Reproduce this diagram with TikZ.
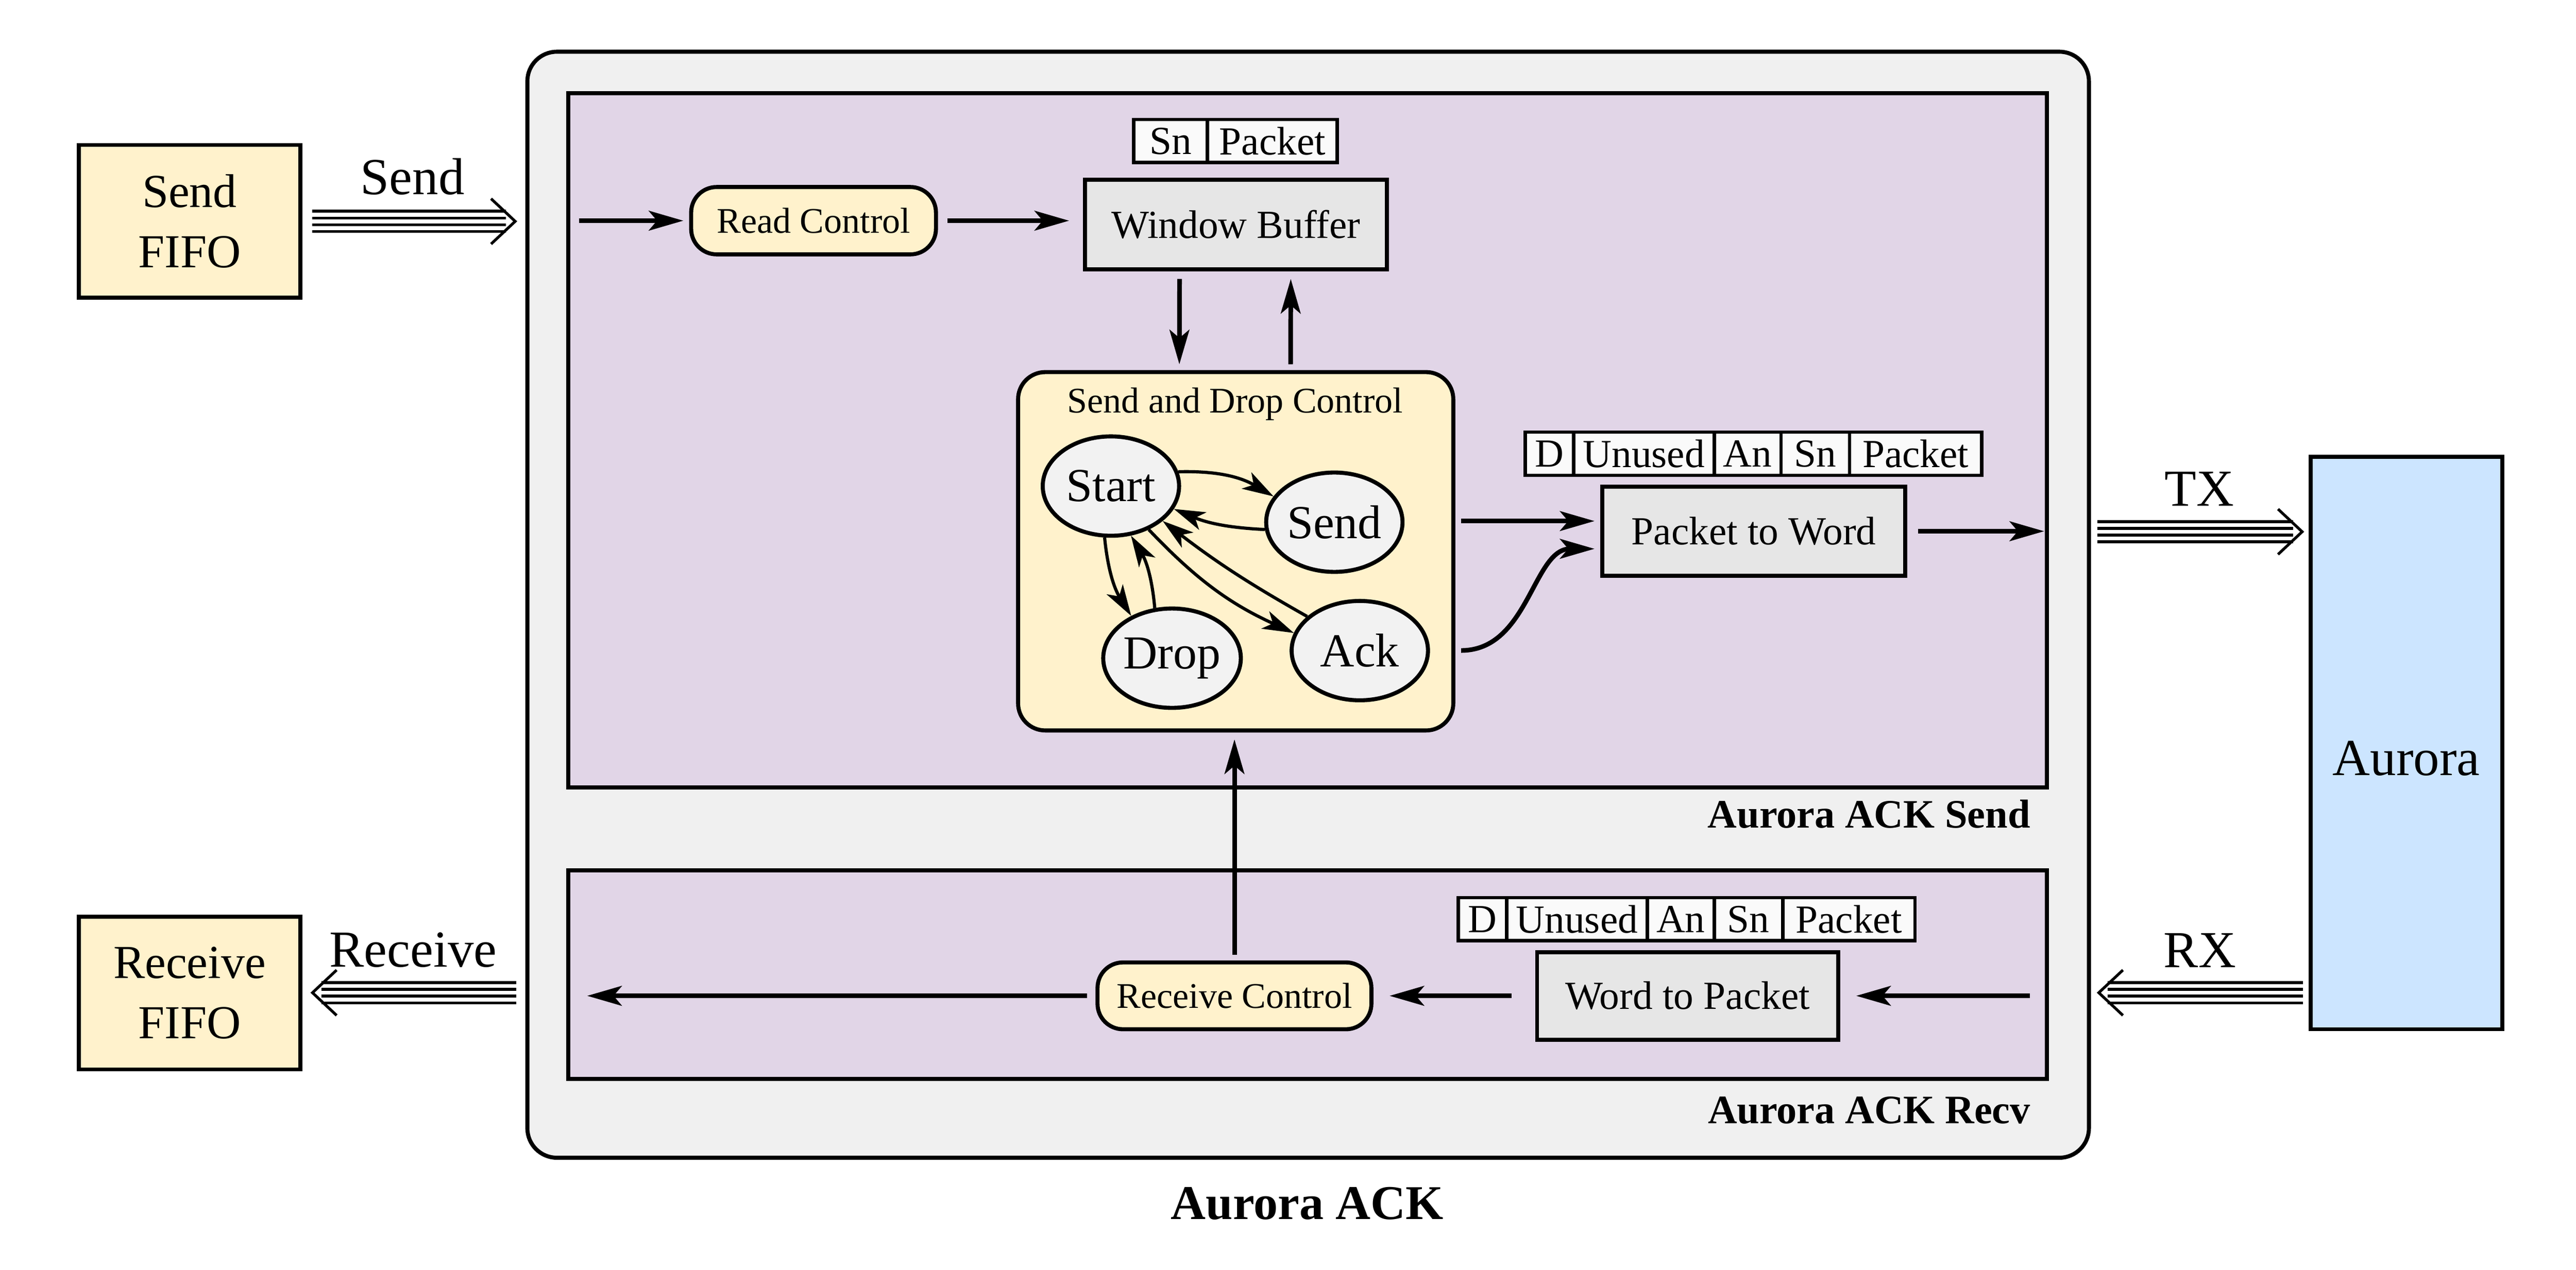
\documentclass[tikz,border=0pt]{standalone}
\usepackage{fontspec}
\setmainfont{Liberation Serif}
\usetikzlibrary{arrows.meta,shapes.geometric}

\definecolor{ackgray}{HTML}{F0F0F0}
\definecolor{panelpurple}{HTML}{E1D5E7}
\definecolor{ctlyellow}{HTML}{FFF2CC}
\definecolor{blockgray}{HTML}{E6E6E6}
\definecolor{stategray}{HTML}{F2F2F2}
\definecolor{fieldwhite}{HTML}{FAFAFA}
\definecolor{auroblue}{HTML}{CCE5FF}

\begin{document}
\begin{tikzpicture}[
  box/.style={draw, line width=0.7pt, inner sep=0pt, align=center},
  blk/.style={box, fill=blockgray, font=\fontsize{6.9}{8}\selectfont},
  ctl/.style={box, fill=ctlyellow, rounded corners=1.55mm, font=\fontsize{6.25}{7.5}\selectfont},
  fld/.style={draw, line width=0.6pt, fill=fieldwhite, inner sep=0pt, outer sep=0pt, minimum height=2.63mm, font=\fontsize{6.9}{8}\selectfont},
  state/.style={ellipse, draw, line width=0.7pt, fill=stategray, minimum width=8.3mm, minimum height=6.05mm, inner sep=0pt, font=\fontsize{8.2}{9}\selectfont},
  arr/.style={-{Stealth[length=2.1mm,width=1.2mm,inset=0.5mm]}, line width=0.8pt},
  sarr/.style={-{Stealth[length=1.9mm,width=1.15mm,inset=0.5mm]}, line width=0.55pt},
  bus/.style={line width=3.98pt, postaction={draw, white, line width=3.02pt}, postaction={draw, black, line width=1.65pt}, postaction={draw, white, line width=0.68pt}},
  chev/.style={line width=0.48pt},
  lbl/.style={font=\fontsize{9}{10}\selectfont, inner sep=0pt},
  ttl/.style={font=\bfseries\fontsize{7}{8}\selectfont, inner sep=0pt}
]
\path[use as bounding box, fill=white] (0,0) rectangle (15.68,-7.732);

% outer block and panels
\node[box, fill=ackgray, rounded corners=1.8mm, minimum width=9.505cm, minimum height=6.735cm] (aurack) at (7.9625,-3.6825) {};
\node[font=\bfseries\fontsize{8.4}{9}\selectfont, anchor=base, inner sep=0pt] (aurackname) at (7.957,-7.425) {Aurora ACK};
\node[box, fill=panelpurple, minimum width=9.0cm, minimum height=4.228cm] (sendpanel) at (7.96,-2.682) {};
\node[ttl, anchor=base east] (sendname) at (12.366,-5.04) {Aurora ACK Send};
\node[box, fill=panelpurple, minimum width=9.0cm, minimum height=1.27cm] (recvpanel) at (7.96,-5.935) {};
\node[ttl, anchor=base east] (recvname) at (12.366,-6.84) {Aurora ACK Recv};

% outside blocks
\node[box, fill=ctlyellow, minimum width=1.35cm, minimum height=0.93cm, font=\fontsize{8.2}{10.4}\selectfont] (sendfifo) at (1.154,-1.348) {Send\\FIFO};
\node[box, fill=ctlyellow, minimum width=1.35cm, minimum height=0.93cm, font=\fontsize{8.2}{10.4}\selectfont] (recvfifo) at (1.154,-6.047) {Receive\\FIFO};
\node[box, fill=auroblue, minimum width=1.166cm, minimum height=3.485cm] (aurora) at (14.647,-4.525) {};
\node[lbl, anchor=base] (auroratxt) at (14.647,-4.722) {Aurora};

% bus arrows
\coordinate (sendtip) at (3.136,-1.348);
\coordinate (recvtip) at (1.902,-6.045);
\coordinate (recvtail) at (3.142,-6.045);
\coordinate (txtail) at (12.766,-3.238);
\coordinate (txtip) at (14.013,-3.238);
\coordinate (rxtip) at (12.775,-6.045);
\coordinate (rxtail) at (14.018,-6.045);
\draw[bus] ([xshift=0.6mm]sendfifo.east) -- ([xshift=-0.55mm]sendtip);
\draw[chev] ([xshift=-1.47mm,yshift=1.38mm]sendtip) -- (sendtip) -- ([xshift=-1.47mm,yshift=-1.38mm]sendtip);
\draw[bus] (recvtail) -- ([xshift=0.55mm]recvtip);
\draw[chev] ([xshift=1.47mm,yshift=1.38mm]recvtip) -- (recvtip) -- ([xshift=1.47mm,yshift=-1.38mm]recvtip);
\draw[bus] (txtail) -- ([xshift=-0.55mm]txtip);
\draw[chev] ([xshift=-1.47mm,yshift=1.38mm]txtip) -- (txtip) -- ([xshift=-1.47mm,yshift=-1.38mm]txtip);
\draw[bus] (rxtail) -- ([xshift=0.55mm]rxtip);
\draw[chev] ([xshift=1.47mm,yshift=1.38mm]rxtip) -- (rxtip) -- ([xshift=1.47mm,yshift=-1.38mm]rxtip);
\node[lbl, anchor=base] (sendlbl) at (2.511,-1.184) {Send};
\node[lbl, anchor=base] (recvlbl) at (2.515,-5.888) {Receive};
\node[lbl, anchor=base] (txlbl) at (13.387,-3.08) {TX};
\node[lbl, anchor=base] (rxlbl) at (13.39,-5.89) {RX};

% send side
\coordinate (readin) at (3.524,-1.344);
\node[ctl, minimum width=1.49cm, minimum height=0.41cm] (readctl) at (4.952,-1.344) {Read Control};
\node[blk, minimum width=1.838cm, minimum height=0.545cm] (winbuf) at (7.523,-1.367) {Window Buffer};
\node[fld, minimum width=0.45cm] (wbsn) at (7.125,-0.859) {Sn};
\node[fld, minimum width=0.79cm, anchor=west] (wbpkt) at (wbsn.east) {Packet};
\draw[arr, shorten >=1pt] (readin) -- (readctl.west);
\draw[arr, shorten <=1.6pt, shorten >=2.4pt] (readctl.east) -- (readctl.east -| winbuf.west);

\node[box, fill=ctlyellow, rounded corners=1.65mm, minimum width=2.649cm, minimum height=2.182cm] (sdc) at (7.5215,-3.357) {};
\node[font=\fontsize{6.25}{7.5}\selectfont, anchor=base, inner sep=0pt] (sdctitle) at (7.518,-2.513) {Send and Drop Control};
\draw[arr, shorten <=1.34pt, shorten >=1pt] ([xshift=-3.43mm]winbuf.south) -- ([xshift=-3.43mm]sdc.north);
\draw[arr, shorten <=1pt, shorten >=1.34pt] ([xshift=3.34mm]sdc.north) -- ([xshift=3.34mm]winbuf.south);

\node[state] (start) at (6.762,-2.96) {Start};
\node[state] (sendst) at (8.122,-3.18) {Send};
\node[state] (drop) at (7.134,-4.008) {Drop};
\node[state] (ackst) at (8.277,-3.962) {Ack};
\draw[sarr] (start.12) to[bend left=16] (sendst.157);
\draw[sarr] (sendst.186) to[bend left=10] (start.340);
\draw[sarr] (start.263) to[bend right=13] (drop.134);
\draw[sarr] (drop.109) to[bend right=13] (start.292);
\draw[sarr] (start.311) to[bend right=11] (ackst.165);
\draw[sarr] (ackst.147) to[bend left=4] (start.326);

\node[blk, minimum width=1.844cm, minimum height=0.541cm] (p2w) at (10.675,-3.235) {Packet to Word};
\node[fld, minimum width=0.295cm] (pwd) at (9.4305,-2.763) {D};
\node[fld, minimum width=0.856cm, anchor=west] (pwunused) at (pwd.east) {Unused};
\node[fld, minimum width=0.407cm, anchor=west] (pwan) at (pwunused.east) {An};
\node[fld, minimum width=0.417cm, anchor=west] (pwsn) at (pwan.east) {Sn};
\node[fld, minimum width=0.805cm, anchor=west] (pwpkt) at (pwsn.east) {Packet};
\coordinate (sendout) at (8.894,-3.173);
\coordinate (ackout) at (8.894,-3.961);
\draw[arr, shorten >=1pt] (sendout) -- (sendout -| p2w.west);
\draw[arr, shorten >=1pt] (ackout) to[out=0,in=180] ([yshift=-1.07mm]p2w.west);
\draw[arr, shorten <=1.85pt, shorten >=0.85pt] (p2w.east) -- (p2w.east -| sendpanel.east);

% receive side
\node[blk, minimum width=1.832cm, minimum height=0.533cm] (w2p) at (10.272,-6.064) {Word to Packet};
\node[fld, minimum width=0.295cm] (wpd) at (9.0235,-5.5975) {D};
\node[fld, minimum width=0.856cm, anchor=west] (wpunused) at (wpd.east) {Unused};
\node[fld, minimum width=0.407cm, anchor=west] (wpan) at (wpunused.east) {An};
\node[fld, minimum width=0.417cm, anchor=west] (wpsn) at (wpan.east) {Sn};
\node[fld, minimum width=0.805cm, anchor=west] (wppkt) at (wpsn.east) {Packet};
\node[ctl, minimum width=1.667cm, minimum height=0.407cm] (recvctl) at (7.514,-6.064) {Receive Control};
\draw[arr, shorten <=3.33pt, shorten >=2.8pt] (w2p.east -| recvpanel.east) -- (w2p.east);
\draw[arr, shorten <=4.1pt, shorten >=2.8pt] (w2p.west) -- (recvctl.east);
\draw[arr, shorten <=1.5pt, shorten >=3.6pt] (recvctl.west) -- (recvctl.west -| recvpanel.west);
\draw[arr, shorten <=1pt, shorten >=1.2pt] (recvctl.north) -- (recvctl.north |- sdc.south);
\end{tikzpicture}
\end{document}
